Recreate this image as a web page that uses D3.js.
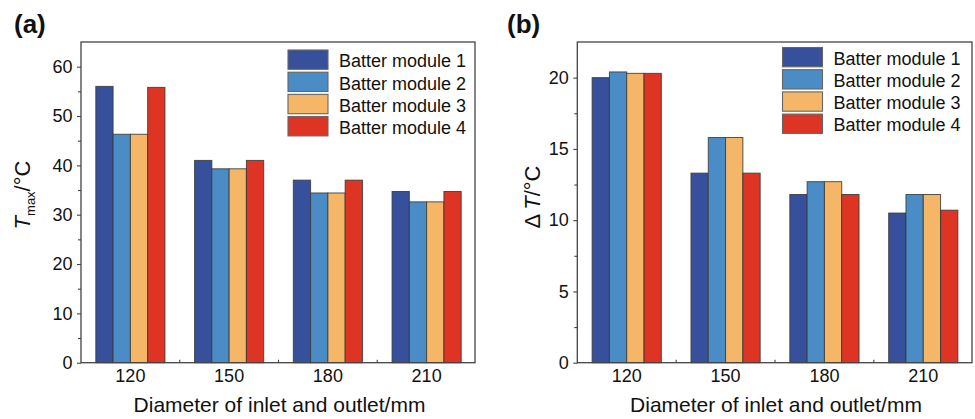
<!DOCTYPE html>
<html>
<head>
<meta charset="utf-8">
<script src="https://cdn.jsdelivr.net/npm/d3@7"></script>
<style>
  html, body { margin: 0; padding: 0; background: #fff; }
  svg { display: block; font-family: "Liberation Sans", Arial, Helvetica, sans-serif; }
</style>
</head>
<body>
<svg id="chart" width="975" height="419"></svg>
<script>
// Inlet/outlet diameters (mm)
const categories = ["120", "150", "180", "210"];
const seriesNames = ["Batter module 1", "Batter module 2", "Batter module 3", "Batter module 4"];
const seriesColors = ["#36509c", "#4a8dc6", "#f5b767", "#dd3423"];

// (a) maximum temperature, °C
const tmaxModule1 = [56.0, 41.0, 37.0, 34.7];
const tmaxModule2 = [46.3, 39.3, 34.4, 32.6];
const tmaxModule3 = [46.3, 39.3, 34.4, 32.6];
const tmaxModule4 = [55.8, 41.0, 37.0, 34.7];

// (b) temperature difference, °C
const dtModule1 = [20.0, 13.3, 11.8, 10.5];
const dtModule2 = [20.4, 15.8, 12.7, 11.8];
const dtModule3 = [20.3, 15.8, 12.7, 11.8];
const dtModule4 = [20.3, 13.3, 11.8, 10.7];

const tmaxTicks = [0, 10, 20, 30, 40, 50, 60];
const tmaxMinorTicks = [5, 15, 25, 35, 45, 55];
const dtTicks = [0, 5, 10, 15, 20];
const dtMinorTicks = [2.5, 7.5, 12.5, 17.5];

const svg = d3.select("#chart");
const FRAME = "#444";

function drawPanel(opts) {
  const g = svg.append("g");
  const top = 42, bottom = 362.7;
  const { left, right, step } = opts;

  const x = d3.scaleBand()
    .domain(categories)
    .range([left, left + step * categories.length])
    .paddingInner(0.3)
    .paddingOuter(0.15);
  const xs = d3.scaleBand()
    .domain(d3.range(seriesNames.length))
    .range([0, x.bandwidth()]);
  const y = d3.scaleLinear().domain(opts.yDomain).range([bottom, top]);

  // bars
  opts.series.forEach((vals, si) => {
    g.append("g")
      .selectAll("rect")
      .data(vals)
      .join("rect")
      .attr("x", (d, i) => x(categories[i]) + xs(si))
      .attr("y", d => y(d))
      .attr("width", xs.bandwidth())
      .attr("height", d => y(0) - y(d))
      .attr("fill", seriesColors[si])
      .attr("stroke", "#3a3a3a")
      .attr("stroke-opacity", 0.85)
      .attr("stroke-width", 1);
  });

  // minor y ticks
  g.append("g")
    .attr("transform", `translate(${left},0)`)
    .call(d3.axisLeft(y).tickValues(opts.minorTicks).tickSize(3).tickFormat(""))
    .call(a => a.select(".domain").remove())
    .call(a => a.selectAll("line").attr("stroke", FRAME).attr("stroke-width", 1.1));

  // major y ticks
  g.append("g")
    .attr("transform", `translate(${left},0)`)
    .call(d3.axisLeft(y).tickValues(opts.ticks).tickSize(4).tickPadding(4.5))
    .call(a => a.select(".domain").remove())
    .call(a => a.selectAll("line").attr("stroke", FRAME).attr("stroke-width", 1.1))
    .call(a => a.selectAll("text")
      .attr("font-size", 18)
      .attr("fill", "#111")
      .attr("font-family", "Liberation Sans, Arial, sans-serif"));

  // x tick labels
  g.append("g")
    .attr("transform", `translate(0,${bottom})`)
    .call(d3.axisBottom(x).tickSize(0).tickPadding(7))
    .call(a => a.select(".domain").remove())
    .call(a => a.selectAll("text")
      .attr("font-size", 18)
      .attr("fill", "#111")
      .attr("font-family", "Liberation Sans, Arial, sans-serif"));

  // small inward ticks between groups
  const gap = x.step() * x.paddingInner();
  const seps = categories.slice(1).map(c => x(c) - gap / 2);
  g.append("g")
    .selectAll("line")
    .data(seps)
    .join("line")
    .attr("x1", d => d).attr("x2", d => d)
    .attr("y1", bottom).attr("y2", bottom - 3)
    .attr("stroke", FRAME).attr("stroke-width", 1.1);

  // frame
  g.append("rect")
    .attr("x", left).attr("y", top)
    .attr("width", right - left).attr("height", bottom - top)
    .attr("fill", "none")
    .attr("stroke", FRAME)
    .attr("stroke-width", 1.3);

  // legend
  const lg = g.append("g");
  seriesNames.forEach((name, i) => {
    const ty = opts.legendY + i * 22.2;
    lg.append("rect")
      .attr("x", opts.legendX).attr("y", ty)
      .attr("width", 40).attr("height", 19.3)
      .attr("fill", seriesColors[i])
      .attr("stroke", "#666")
      .attr("stroke-width", 1.1);
    lg.append("text")
      .attr("x", opts.legendX + 51)
      .attr("y", ty + 17.3)
      .attr("font-size", 18)
      .attr("fill", "#111")
      .text(name);
  });

  // x axis title
  const cx = (x(categories[0]) + x(categories[categories.length - 1]) + x.bandwidth()) / 2;
  g.append("text")
    .attr("x", cx + 1)
    .attr("y", 412)
    .attr("text-anchor", "middle")
    .attr("font-size", 21)
    .attr("fill", "#111")
    .text("Diameter of inlet and outlet/mm");

  // y axis title
  const yt = g.append("text")
    .attr("transform", `translate(${opts.yTitleX},${opts.yTitleY}) rotate(-90)`)
    .attr("text-anchor", "middle")
    .attr("font-size", 22)
    .attr("fill", "#111");
  opts.yTitle(yt);

  // panel label
  g.append("text")
    .attr("x", opts.labelX)
    .attr("y", 33)
    .attr("font-size", 26)
    .attr("font-weight", "bold")
    .attr("fill", "#111")
    .text(opts.label);
}

drawPanel({
  left: 81, right: 475, step: 98.75,
  yDomain: [0, 65],
  ticks: tmaxTicks, minorTicks: tmaxMinorTicks,
  series: [tmaxModule1, tmaxModule2, tmaxModule3, tmaxModule4],
  legendX: 288, legendY: 50,
  yTitleX: 30, yTitleY: 195,
  yTitle: t => {
    t.append("tspan").attr("font-style", "italic").text("T");
    t.append("tspan").attr("font-size", 13).attr("dy", 5).text("max");
    t.append("tspan").attr("dy", -5).text("/°C");
  },
  label: "(a)", labelX: 14
});

drawPanel({
  left: 577.3, right: 972, step: 98.85,
  yDomain: [0, 22.5],
  ticks: dtTicks, minorTicks: dtMinorTicks,
  series: [dtModule1, dtModule2, dtModule3, dtModule4],
  legendX: 782.5, legendY: 47.5,
  yTitleX: 540, yTitleY: 197,
  yTitle: t => {
    t.append("tspan").text("Δ");
    t.append("tspan").attr("dx", 4).attr("font-style", "italic").text("T");
    t.append("tspan").text("/°C");
  },
  label: "(b)", labelX: 507
});
</script>
</body>
</html>
